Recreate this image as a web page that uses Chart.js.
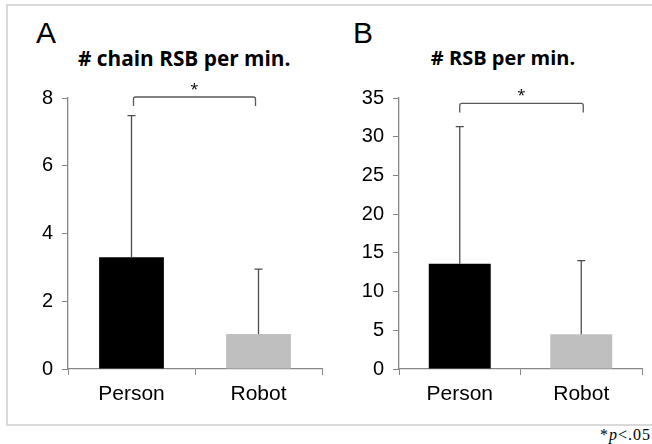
<!DOCTYPE html>
<html>
<head>
<meta charset="utf-8">
<script src="https://cdn.jsdelivr.net/npm/chart.js@4.4.1/dist/chart.umd.min.js"></script>
<style>
  body { margin: 0; background: #fff; width: 652px; height: 444px; overflow: hidden; position: relative; }
  .frame { position: absolute; left: 6px; top: 4px; width: 700px; height: 418px;
           border: 2px solid #d9d9d9; border-right: none; }
  .panel { position: absolute; top: 0; }
  .letter { position: absolute; font: 30px "Liberation Sans", Arial, sans-serif; line-height: 30px; color: #000; }
  .title { position: absolute; font: bold 20px "Open Sans", sans-serif; line-height: 20px; color: #000;
           white-space: nowrap; }
  .note { position: absolute; right: 1px; top: 427px; font: 16px "Liberation Serif", "Times New Roman", serif;
          line-height: 15px; letter-spacing: 1px; color: #000; }
</style>
</head>
<body>
<div class="frame"></div>
<div class="letter" style="left:36px;top:18px">A</div>
<div class="letter" style="left:353px;top:18px">B</div>
<div class="title" style="left:78px;top:48px;width:212px;text-align:center;font-size:20.8px"># chain RSB per min.</div>
<div class="title" style="left:403px;top:48px;width:200px;text-align:center"># RSB per min.</div>
<canvas id="chartA" class="panel" width="330" height="420" style="left:0"></canvas>
<canvas id="chartB" class="panel" width="322" height="420" style="left:330px"></canvas>
<div class="note">*<i>p</i>&lt;.05</div>

<script>
const groups = ["Person", "Robot"];
const chainMeans = [3.30, 1.03];
const chainSD = [4.18, 1.92];
const rsbMeans = [13.6, 4.5];
const rsbSD = [17.7, 9.5];
const chainTicks = [0, 8, 2];
const rsbTicks = [0, 35, 5];

const axisGray = "#868686";
const barColors = ["#000000", "#bfbfbf"];

/* error bars (upper half only) + significance bracket */
const extras = {
    id: "extras",
    afterDatasetsDraw(chart, args, opts) {
        const ctx = chart.ctx;
        const x = chart.scales.x, y = chart.scales.y;
        const meta = chart.getDatasetMeta(0);
        ctx.save();
        ctx.strokeStyle = "#4d4d4d";
        ctx.lineWidth = 1.3;
        meta.data.forEach((bar, i) => {
            const top = y.getPixelForValue(opts.means[i] + opts.sd[i]);
            ctx.beginPath();
            ctx.moveTo(bar.x, bar.y);
            ctx.lineTo(bar.x, top);
            ctx.moveTo(bar.x - 4, top);
            ctx.lineTo(bar.x + 4, top);
            ctx.stroke();
        });
        // bracket
        const x1 = x.getPixelForValue(0) + opts.inset[0];
        const x2 = x.getPixelForValue(1) - opts.inset[1];
        const yb = y.getPixelForValue(opts.bracket);
        const drop = 9, r = 2;
        ctx.strokeStyle = "#595959";
        ctx.beginPath();
        ctx.moveTo(x1, yb + drop);
        ctx.lineTo(x1, yb + r);
        ctx.quadraticCurveTo(x1, yb, x1 + r, yb);
        ctx.lineTo(x2 - r, yb);
        ctx.quadraticCurveTo(x2, yb, x2, yb + r);
        ctx.lineTo(x2, yb + drop);
        ctx.stroke();
        ctx.fillStyle = "#000";
        ctx.font = "15px 'Open Sans', sans-serif";
        ctx.textAlign = "center";
        ctx.textBaseline = "alphabetic";
        ctx.fillText("*", (x1 + x2) / 2, yb - 3);
        ctx.restore();
    }
};

function makeChart(id, means, sd, ticks, yWidth, padRight, bracket, inset) {
    return new Chart(document.getElementById(id), {
        type: "bar",
        data: {
            labels: groups,
            datasets: [{
                data: means,
                backgroundColor: barColors,
                borderWidth: 0,
                categoryPercentage: 1,
                barPercentage: 0.51
            }]
        },
        options: {
            responsive: false,
            animation: false,
            layout: { padding: { left: 0, right: padRight, top: 98, bottom: 0 } },
            plugins: {
                legend: { display: false },
                tooltip: { enabled: false },
                extras: { means: means, sd: sd, bracket: bracket, inset: inset }
            },
            scales: {
                x: {
                    grid: { display: true, drawOnChartArea: false, tickLength: 6, color: axisGray, offset: true },
                    border: { color: axisGray, width: 1.3 },
                    ticks: { color: "#000", padding: 7, font: { family: "Liberation Sans", size: 21 } },
                    afterFit: s => { s.height = 51; }
                },
                y: {
                    min: ticks[0], max: ticks[1],
                    grid: { display: true, drawOnChartArea: false, tickLength: 6, color: axisGray },
                    border: { color: axisGray, width: 1.3 },
                    ticks: { stepSize: ticks[2], color: "#000", padding: 9, font: { family: "Liberation Sans", size: 20 } },
                    afterFit: s => { s.width = yWidth; }
                }
            }
        },
        plugins: [extras]
    });
}

makeChart("chartA", chainMeans, chainSD, chainTicks, 68, 8, 8.03, [2, 3]);
makeChart("chartB", rsbMeans, rsbSD, rsbTicks, 69, 10, 34.3, [0, -2]);
</script>
</body>
</html>
